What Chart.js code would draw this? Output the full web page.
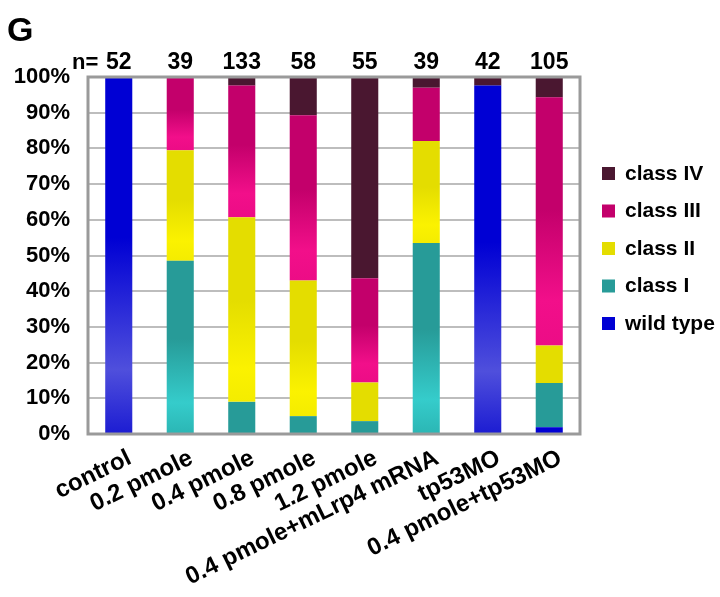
<!DOCTYPE html>
<html>
<head>
<meta charset="utf-8">
<script src="https://cdn.jsdelivr.net/npm/chart.js@4"></script>
<style>
  html, body { margin: 0; padding: 0; background: #fff; }
  #wrap { width: 720px; height: 597px; }
</style>
</head>
<body>
<div id="wrap"><canvas id="chart"></canvas></div>
<script>
const categories = ['control', '0.2 pmole', '0.4 pmole', '0.8 pmole', '1.2 pmole',
                    '0.4 pmole+mLrp4 mRNA', 'tp53MO', '0.4 pmole+tp53MO'];
const nValues = [52, 39, 133, 58, 55, 39, 42, 105];

// percent of embryos per class
const wildType = [100, 0, 0, 0, 0, 0, 97.6, 1.9];
const class1 = [0, 48.5, 9, 5, 3.6, 53.5, 0, 12.4];
const class2 = [0, 31, 51.7, 38, 10.8, 28.6, 0, 10.5];
const class3 = [0, 20.5, 36.9, 46.3, 29.2, 14.9, 0, 69.5];
const class4 = [0, 0, 2.4, 10.7, 56.4, 3, 2.4, 5.7];

const yTicks = [0, 10, 20, 30, 40, 50, 60, 70, 80, 90, 100];

const FONT = 'Liberation Sans, Arial, sans-serif';
Chart.defaults.font.family = FONT;
Chart.defaults.font.weight = 'bold';
Chart.defaults.color = '#000';

// gradient inside a segment: solid on top, lighter towards the base
function segFill(solid, light, bottom) {
    return function (ctx) {
        const chart = ctx.chart;
        if (!chart.chartArea || ctx.type !== 'data') return solid;
        const v = ctx.raw;
        if (v < 20) return solid;
        let base = 0;
        for (let d = 0; d < ctx.datasetIndex; d++) {
            base += chart.data.datasets[d].data[ctx.dataIndex];
        }
        const y = chart.scales.y;
        const top = y.getPixelForValue(base + v);
        const bot = y.getPixelForValue(base);
        const g = chart.ctx.createLinearGradient(0, top, 0, bot);
        g.addColorStop(0, solid);
        g.addColorStop(0.45, solid);
        g.addColorStop(0.82, light);
        g.addColorStop(1, bottom);
        return g;
    };
}

const series = [
    { label: 'wild type', data: wildType, solid: '#0000d4', light: '#4f4fdc', bottom: '#1c1cd2' },
    { label: 'class I',   data: class1,   solid: '#279b98', light: '#35cccb', bottom: '#2bb6b4' },
    { label: 'class II',  data: class2,   solid: '#e4dd00', light: '#fbf200', bottom: '#f4ec00' },
    { label: 'class III', data: class3,   solid: '#c3006b', light: '#f20f8a', bottom: '#ec0c86' },
    { label: 'class IV',  data: class4,   solid: '#4a1730', light: '#4a1730', bottom: '#4a1730' }
];

const extras = {
    id: 'extras',
    afterDraw(chart) {
        const c = chart.ctx;
        const a = chart.chartArea;
        const x = chart.scales.x;
        c.save();

        // plot frame
        c.strokeStyle = '#9a9a9a';
        c.lineWidth = 3;
        c.strokeRect(a.left, a.top, a.right - a.left, a.bottom - a.top);

        // panel letter
        c.fillStyle = '#000';
        c.font = 'bold 34px ' + FONT;
        c.textAlign = 'left';
        c.textBaseline = 'alphabetic';
        c.fillText('G', 7, 41);

        // n= row
        c.font = 'bold 22px ' + FONT;
        c.textBaseline = 'middle';
        c.fillText('n=', 72, 63);
        c.font = 'bold 23px ' + FONT;
        c.textAlign = 'center';
        nValues.forEach((n, i) => {
            c.fillText(String(n), x.getPixelForValue(i), 63);
        });

        // legend, top item = last dataset
        c.font = 'bold 21px ' + FONT;
        c.textAlign = 'left';
        const items = chart.data.datasets.slice().reverse();
        items.forEach((ds, k) => {
            const cy = 174 + k * 37.5;
            c.fillStyle = series[series.length - 1 - k].solid;
            c.fillRect(602, cy - 7, 13, 13);
            c.fillStyle = '#000';
            c.fillText(ds.label, 625, cy);
        });
        c.restore();
    }
};

new Chart(document.getElementById('chart'), {
    type: 'bar',
    data: {
        labels: categories,
        datasets: series.map(s => ({
            label: s.label,
            data: s.data,
            backgroundColor: segFill(s.solid, s.light, s.bottom),
            borderWidth: 0,
            categoryPercentage: 1,
            barPercentage: 0.44
        }))
    },
    options: {
        responsive: true,
        maintainAspectRatio: false,
        animation: false,
        layout: { padding: { left: 0, top: 77, right: 140, bottom: 0 } },
        plugins: {
            legend: { display: false },
            tooltip: { enabled: false }
        },
        scales: {
            x: {
                stacked: true,
                grid: { display: false },
                border: { display: false },
                ticks: {
                    autoSkip: false,
                    minRotation: 26,
                    maxRotation: 26,
                    padding: 2,
                    labelOffset: 11,
                    font: { size: 24, weight: 'bold' }
                },
                afterFit(scale) {
                    scale.height = 163;
                    scale.paddingLeft = 0;
                    scale.paddingRight = 0;
                }
            },
            y: {
                stacked: true,
                min: 0,
                max: 100,
                afterBuildTicks(scale) {
                    scale.ticks = yTicks.map(v => ({ value: v }));
                },
                grid: { color: '#bdbdbd', lineWidth: 2, drawTicks: false },
                border: { display: false },
                ticks: {
                    padding: 18,
                    font: { size: 22, weight: 'bold' },
                    callback: v => v + '%'
                },
                afterFit(scale) {
                    scale.width = 88;
                }
            }
        }
    },
    plugins: [extras]
});
</script>
</body>
</html>
